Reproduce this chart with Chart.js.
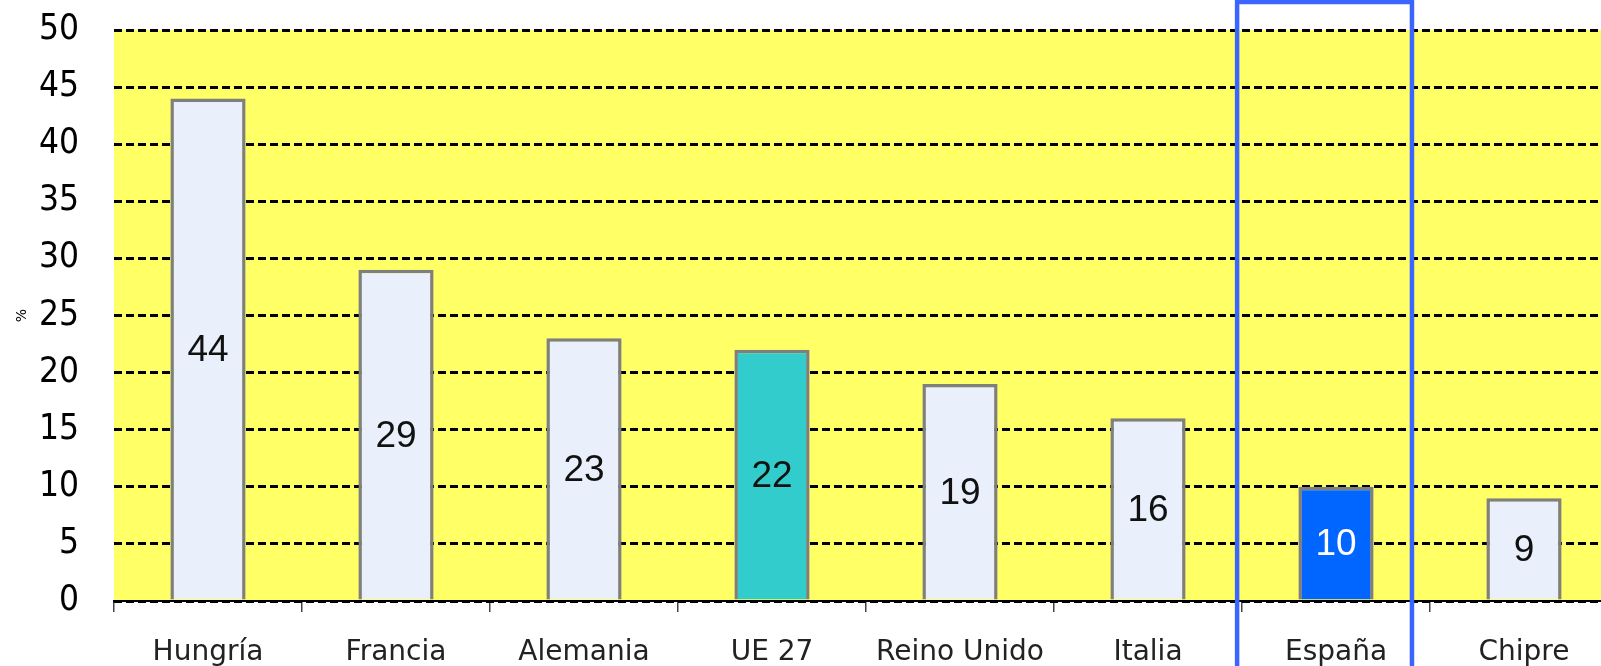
<!DOCTYPE html>
<html>
<head>
<meta charset="utf-8">
<script src="https://cdn.jsdelivr.net/npm/chart.js@4/dist/chart.umd.min.js"></script>
<style>
  html, body { margin:0; padding:0; background:#fff; overflow:hidden; }
  #wrap { position:relative; width:1624px; height:666px; }
</style>
</head>
<body>
<div id="wrap"><canvas id="chart"></canvas></div>
<script>
// data
const countries   = ['Hungría','Francia','Alemania','UE 27','Reino Unido','Italia','España','Chipre'];
const values      = [44, 29, 23, 22, 19, 16, 10, 9];
const barColors   = ['#e9f0fc','#e9f0fc','#e9f0fc','#33cccc','#e9f0fc','#e9f0fc','#0066ff','#e9f0fc'];
const labelColors = ['#111','#111','#111','#111','#111','#111','#fff','#111'];
const highlighted = 'España';
const yMin = 0, yMax = 50, yStep = 5;

// yellow plot background
const plotBg = {
  id:'plotBg',
  beforeDraw(chart){
    const {ctx, chartArea:a} = chart;
    ctx.save();
    ctx.fillStyle = '#ffff66';
    ctx.fillRect(a.left, a.top, a.right - a.left, a.bottom - a.top);
    ctx.restore();
  }
};

// numbers in the middle of each bar
const barValues = {
  id:'barValues',
  afterDatasetsDraw(chart){
    const {ctx} = chart;
    const meta = chart.getDatasetMeta(0);
    ctx.save();
    ctx.font = '37px "Liberation Sans", Arial, sans-serif';
    ctx.textAlign = 'center';
    ctx.textBaseline = 'middle';
    meta.data.forEach((bar, i) => {
      ctx.fillStyle = labelColors[i];
      ctx.fillText(values[i], bar.x, (bar.y + bar.base) / 2 + 2);
    });
    ctx.restore();
  }
};

// blue frame around España
const frame = {
  id:'frame',
  afterDraw(chart){
    const {ctx} = chart;
    const x = chart.scales.x;
    const idx = countries.indexOf(highlighted);
    const c = x.getPixelForValue(idx);
    const cw = x.width / countries.length;
    ctx.save();
    ctx.strokeStyle = '#3a66ff';
    ctx.lineWidth = 4.5;
    ctx.strokeRect(c - 0.526*cw, 2, 0.93*cw, chart.height + 20);
    ctx.restore();
  }
};

new Chart(document.getElementById('chart'), {
  type:'bar',
  data:{
    labels: countries,
    datasets:[{
      data: values,
      backgroundColor: barColors,
      borderColor: '#7f7f7f',
      borderWidth: 3.5,
      barPercentage: 0.4,
      categoryPercentage: 1
    }]
  },
  options:{
    responsive:true,
    maintainAspectRatio:false,
    animation:false,
    layout:{ autoPadding:false, padding:{ top:30, right:6, left:0, bottom:0 } },
    plugins:{ legend:{display:false}, tooltip:{enabled:false} },
    scales:{
      x:{
        afterFit(s){ s.height = 65; },
        grid:{ drawOnChartArea:false, drawTicks:true, tickLength:11, color:'#444', lineWidth:1.5 },
        border:{ display:true, color:'#000', width:2 },
        ticks:{ color:'#222', padding:24, maxRotation:0, autoSkip:false,
                font:{ family:'"DejaVu Sans", Verdana, sans-serif', size:28 } }
      },
      y:{
        min:yMin, max:yMax,
        afterFit(s){ s.width = 114; },
        // invisible tick marks keep the labels away from the plot
        grid:{ drawTicks:true, tickLength:35, tickColor:'rgba(0,0,0,0)', color:'#000', lineWidth:3 },
        border:{ display:false, dash:[8,4] },
        ticks:{ stepSize:yStep, color:'#000', padding:0,
                font:{ family:'"DejaVu Sans Condensed", "DejaVu Sans", sans-serif', size:35 } },
        title:{ display:true, text:'%', color:'#000', padding:{top:14, bottom:0},
                font:{ family:'"DejaVu Sans", sans-serif', size:14 } }
      }
    }
  },
  plugins:[plotBg, barValues, frame]
});
</script>
</body>
</html>
